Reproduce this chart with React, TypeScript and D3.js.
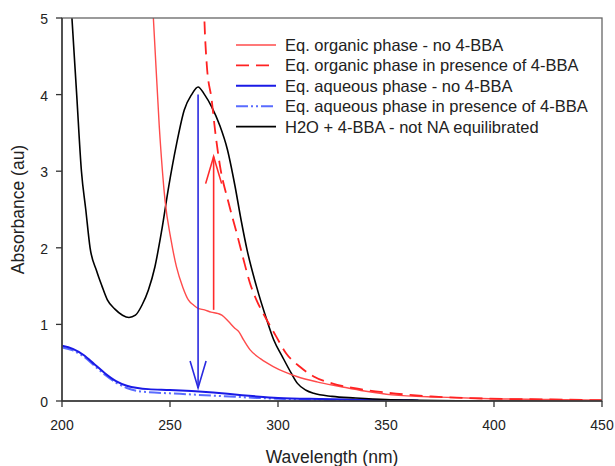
import React from "react";
import * as d3 from "d3";

// wavelength (nm) / absorbance (au)
const blackWl = [200, 202, 204.6, 206.8, 209, 211, 213, 216, 218.5, 221, 224.5, 228, 231, 234, 237, 240, 243, 246, 249.4, 253, 256.6, 260, 263, 266, 269.3, 273, 276.6, 280, 283, 285.7, 290, 294.8, 298, 302, 306, 309, 313, 316.5, 325, 336, 350, 365, 400, 450];
const blackAbs = [7.5, 6.2, 5.0, 4.0, 3.0, 2.5, 2.0, 1.7, 1.5, 1.32, 1.2, 1.12, 1.09, 1.12, 1.25, 1.45, 1.75, 2.2, 2.8, 3.35, 3.8, 4.0, 4.1, 4.0, 3.84, 3.6, 3.28, 2.82, 2.35, 1.97, 1.5, 1.06, 0.8, 0.58, 0.37, 0.23, 0.14, 0.1, 0.06, 0.04, 0.02, 0.01, 0.0, 0.0];

const orgWl = [240, 242.3, 245, 247.7, 250.5, 253, 256, 258.5, 261, 263, 266, 269, 272.4, 274, 277, 280, 282, 284, 287, 292, 297.8, 303, 308.7, 318, 328.7, 340, 352.8, 375, 398, 425, 450];
const orgAbs = [6.0, 5.0, 3.6, 2.62, 2.1, 1.75, 1.48, 1.32, 1.25, 1.21, 1.19, 1.16, 1.14, 1.12, 1.04, 0.95, 0.9, 0.8, 0.67, 0.55, 0.45, 0.38, 0.32, 0.25, 0.19, 0.13, 0.08, 0.05, 0.03, 0.02, 0.01];

const orgBbaWl = [265, 265.9, 267, 269.3, 271, 273.2, 277, 280.9, 284, 287, 290, 294, 299, 303.8, 310, 316.5, 325, 334.7, 350, 370.9, 398, 425, 450];
const orgBbaAbs = [6.0, 5.0, 4.4, 3.93, 3.5, 3.06, 2.6, 2.19, 1.85, 1.54, 1.32, 1.1, 0.85, 0.62, 0.45, 0.32, 0.23, 0.17, 0.11, 0.06, 0.03, 0.02, 0.01];

const aqWl = [200, 205, 210, 215, 220, 225, 230, 235, 240, 250, 260, 270, 280, 290, 300, 320, 340, 365];
const aqAbs = [0.72, 0.68, 0.6, 0.48, 0.36, 0.26, 0.2, 0.17, 0.155, 0.145, 0.13, 0.11, 0.085, 0.06, 0.04, 0.025, 0.015, 0.005];

const aqBbaWl = [200, 205, 210, 215, 220, 225, 230, 235, 240, 250, 260, 270, 280, 290, 300, 320, 340, 360];
const aqBbaAbs = [0.7, 0.66, 0.58, 0.46, 0.34, 0.24, 0.17, 0.13, 0.115, 0.1, 0.085, 0.07, 0.055, 0.04, 0.03, 0.015, 0.008, 0.003];

const seriesNames = [
  "Eq. organic phase - no 4-BBA",
  "Eq. organic phase in presence of 4-BBA",
  "Eq. aqueous phase - no 4-BBA",
  "Eq. aqueous phase in presence of 4-BBA",
  "H2O + 4-BBA - not NA equilibrated",
];

const xTicks = [200, 250, 300, 350, 400, 450];
const yTicks = [0, 1, 2, 3, 4, 5];

// arrows: [wavelength, from, to]
const blueArrow = [263, 4.0, 0.17];
const redArrow = [270.2, 1.19, 3.19];

const styles = [
  { color: "#ff4b4b", width: 1.4, dash: null },
  { color: "#ff2222", width: 1.8, dash: "13,7" },
  { color: "#1a1ae6", width: 2, dash: null },
  { color: "#5a6cff", width: 2, dash: "12,3,2,3,2,3" },
  { color: "#000000", width: 1.6, dash: null },
];

const W = 615, H = 466;
const m = { left: 62, right: 13, top: 18, bottom: 65 };

export default function App() {
  const x = d3.scaleLinear().domain([200, 450]).range([m.left, W - m.right]);
  const y = d3.scaleLinear().domain([0, 5]).range([H - m.bottom, m.top]);

  const line = d3.line<[number, number]>().x(d => x(d[0])).y(d => y(d[1])).curve(d3.curveMonotoneX);
  const zip = (a: number[], b: number[]) => a.map((v, i) => [v, b[i]] as [number, number]);

  const data = [
    zip(orgWl, orgAbs),
    zip(orgBbaWl, orgBbaAbs),
    zip(aqWl, aqAbs),
    zip(aqBbaWl, aqBbaAbs),
    zip(blackWl, blackAbs),
  ];
  // draw order: aqueous under, black, then red
  const order = [3, 2, 4, 0, 1];

  const font = "Liberation Sans, Arial, sans-serif";
  const x0 = m.left, x1 = W - m.right, y0 = H - m.bottom, y1 = m.top;

  const arrow = (a: number[], color: string) => {
    const ax = x(a[0]), ya = y(a[1]), yb = y(a[2]);
    const dir = yb > ya ? -1 : 1; // head points toward yb
    return (
      <g stroke={color} strokeWidth={1.6} fill="none">
        <line x1={ax} x2={ax} y1={ya} y2={yb} />
        <polyline points={`${ax - 8},${yb + dir * 27} ${ax},${yb} ${ax + 8},${yb + dir * 27}`} />
      </g>
    );
  };

  return (
    <svg width={W} height={H} style={{ position: "absolute", left: 0, top: 0, background: "#fff" }} fontFamily={font}>
      <defs>
        <clipPath id="plot">
          <rect x={x0} y={y1} width={x1 - x0} height={y0 - y1} />
        </clipPath>
      </defs>

      <g clipPath="url(#plot)">
        {order.map(i => (
          <path key={i} d={line(data[i]) || ""} fill="none" stroke={styles[i].color}
            strokeWidth={styles[i].width} strokeDasharray={styles[i].dash || undefined} />
        ))}
      </g>

      {arrow(blueArrow, "#2a2ae0")}
      {arrow(redArrow, "#ff2a2a")}

      {/* frame */}
      <rect x={x0} y={y1} width={x1 - x0} height={y0 - y1} fill="none" stroke="#666" strokeWidth={1.3} />
      <line x1={x0} x2={x1} y1={y0} y2={y0} stroke="#333" strokeWidth={1.4} />
      <line x1={x0} x2={x0} y1={y0} y2={y1} stroke="#333" strokeWidth={1.4} />

      {xTicks.map(t => (
        <g key={t}>
          <line x1={x(t)} x2={x(t)} y1={y0} y2={y0 + 6} stroke="#333" strokeWidth={1.3} />
          <text x={x(t)} y={y0 + 29} textAnchor="middle" fontSize={14} fill="#222">{t}</text>
        </g>
      ))}
      {yTicks.map(t => (
        <g key={t}>
          <line x1={x0 - 6} x2={x0} y1={y(t)} y2={y(t)} stroke="#333" strokeWidth={1.3} />
          <text x={x0 - 14} y={y(t) + 6} textAnchor="end" fontSize={14} fill="#222">{t}</text>
        </g>
      ))}

      <text x={(x0 + x1) / 2} y={463} textAnchor="middle" fontSize={17.5} fill="#222">Wavelength (nm)</text>
      <text transform={`translate(24,${(y0 + y1) / 2}) rotate(-90)`} textAnchor="middle" fontSize={17.5} fill="#222">Absorbance (au)</text>

      {/* legend */}
      {seriesNames.map((n, i) => {
        const ly = 45 + i * 20.4;
        return (
          <g key={n}>
            <line x1={236} x2={276} y1={ly} y2={ly} stroke={styles[i].color}
              strokeWidth={styles[i].width} strokeDasharray={styles[i].dash || undefined} />
            <text x={285} y={ly + 6} fontSize={16.5} fill="#222">{n}</text>
          </g>
        );
      })}
    </svg>
  );
}
